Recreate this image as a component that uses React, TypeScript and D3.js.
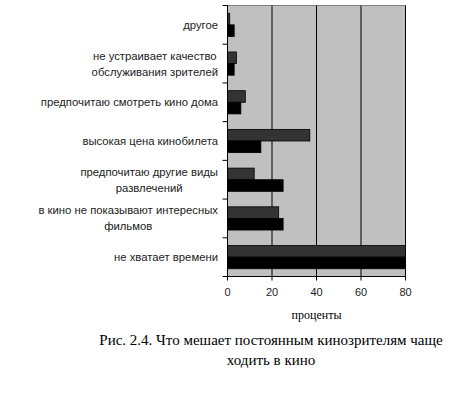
import React from "react";
import * as d3 from "d3";

const categories: string[][] = [
  ["другое"],
  ["не устраивает качество", "обслуживания зрителей"],
  ["предпочитаю смотреть кино дома"],
  ["высокая цена кинобилета"],
  ["предпочитаю другие виды", "развлечений"],
  ["в кино не показывают интересных", "фильмов"],
  ["не хватает времени"],
];
const seriesA: number[] = [1, 4, 8, 37, 12, 23, 80];
const seriesB: number[] = [3, 3, 6, 15, 25, 25, 80];
const xTicks: number[] = [0, 20, 40, 60, 80];
const xTitle = "проценты";
const caption = ["Рис. 2.4. Что мешает постоянным кинозрителям чаще", "ходить в кино"];

let ctx: CanvasRenderingContext2D | null = null;
function measure(text: string, font: string): number {
  if (!ctx) ctx = document.createElement("canvas").getContext("2d");
  if (!ctx) return text.length * 5.6;
  ctx.font = font;
  return ctx.measureText(text).width;
}

export default function App() {
  const W = 472, H = 416;
  const left = 227.5, right = 405.5, top = 5.5, bottom = 276.5;
  const x = d3.scaleLinear().domain([0, 80]).range([left, right]);
  const y = d3.scaleBand<number>().domain(categories.map((_, i) => i)).range([top, bottom]);
  const bw = y.bandwidth();
  const barH = bw * 0.3;
  const sans = "'Liberation Sans', Arial, sans-serif";
  const serif = "'Liberation Serif', 'Times New Roman', serif";
  const labelSize = 11.3;
  const labelFont = `${labelSize}px 'Liberation Sans', Arial, sans-serif`;
  const labelRight = 218;
  const boundaries = d3.range(categories.length + 1).map((i) => top + i * bw);
  return (
    <svg width={W} height={H} style={{ position: "absolute", left: 0, top: 0 }}>
      <rect x={left} y={top} width={right - left} height={bottom - top} fill="#C0C0C0" stroke="#808080" strokeWidth={1} />
      {xTicks.slice(1).map((t) => (
        <line key={"g" + t} x1={x(t)} x2={x(t)} y1={top} y2={bottom} stroke="#000" strokeWidth={1} />
      ))}
      {categories.map((_, i) => {
        const c = (y(i) as number) + bw / 2;
        return (
          <g key={"b" + i}>
            <rect x={x(0)} y={c - barH} width={x(seriesA[i]) - x(0)} height={barH} fill="#333333" stroke="#000" strokeWidth={0.8} />
            <rect x={x(0)} y={c} width={x(seriesB[i]) - x(0)} height={barH} fill="#000" stroke="#000" strokeWidth={0.8} />
          </g>
        );
      })}
      <line x1={left} x2={left} y1={top} y2={bottom} stroke="#000" />
      <line x1={left} x2={right} y1={bottom} y2={bottom} stroke="#000" />
      {boundaries.map((b, i) => (
        <line key={"yt" + i} x1={left - 5} x2={left} y1={b} y2={b} stroke="#000" />
      ))}
      {xTicks.map((t) => (
        <g key={"xt" + t}>
          <line x1={x(t)} x2={x(t)} y1={bottom} y2={bottom + 4} stroke="#000" />
          <text x={x(t)} y={bottom + 19} textAnchor="middle" fontFamily={sans} fontSize={11} fill="#222">{t}</text>
        </g>
      ))}
      {categories.map((lines, i) => {
        const c = (y(i) as number) + bw / 2;
        const lh = 16;
        const start = c - ((lines.length - 1) * lh) / 2;
        const maxW = d3.max(lines, (ln) => measure(ln, labelFont)) || 0;
        const cx = labelRight - maxW / 2;
        return (
          <text key={"l" + i} textAnchor="middle" fontFamily={sans} fontSize={labelSize} fill="#222">
            {lines.map((ln, j) => (
              <tspan key={j} x={cx} y={start + j * lh + 4}>{ln}</tspan>
            ))}
          </text>
        );
      })}
      <text x={(left + right) / 2} y={319} textAnchor="middle" fontFamily={serif} fontSize={12} fill="#000">{xTitle}</text>
      {caption.map((ln, i) => (
        <text key={"c" + i} x={271} y={345 + i * 20} textAnchor="middle" fontFamily={serif} fontSize={15} fill="#000">{ln}</text>
      ))}
    </svg>
  );
}
